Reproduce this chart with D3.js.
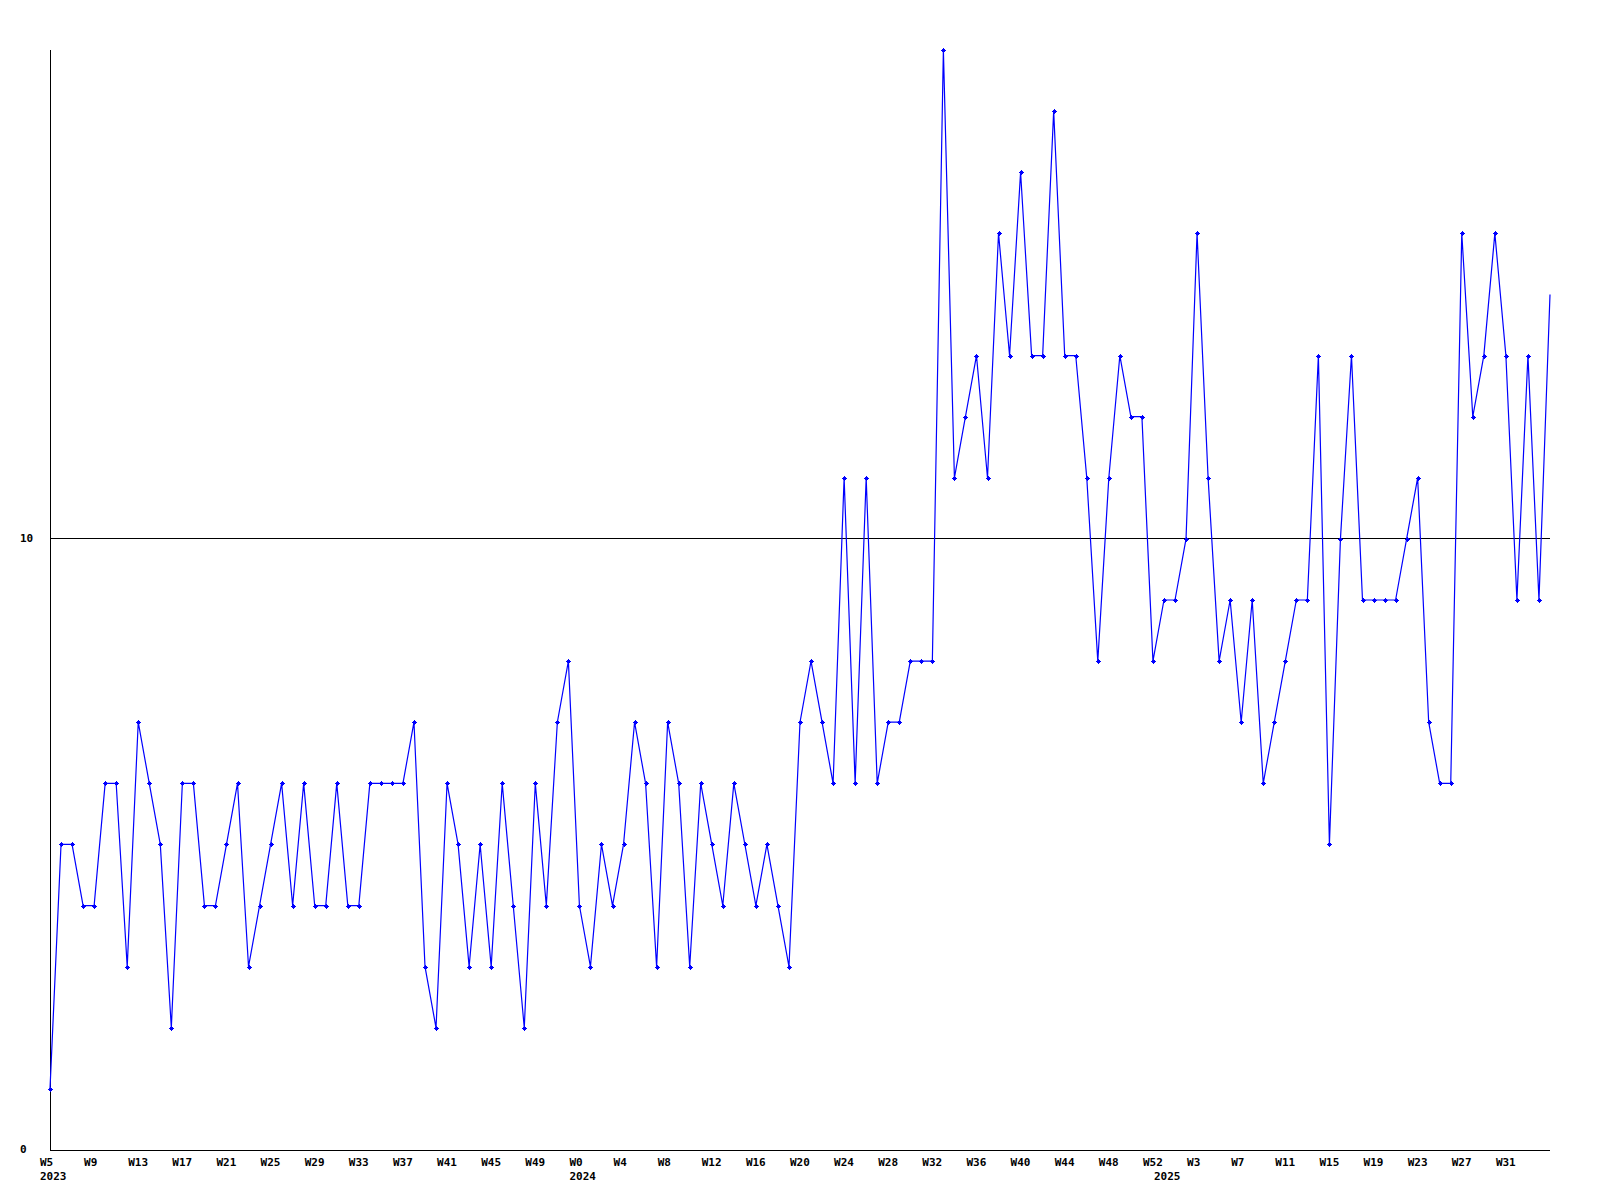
<!DOCTYPE html>
<html>
<head>
<meta charset="utf-8">
<script src="https://cdn.jsdelivr.net/npm/d3@7"></script>
<style>
  html, body { margin: 0; padding: 0; background: #fff; }
  svg { display: block; }
  text { font-family: "DejaVu Sans Mono", "Liberation Mono", monospace; font-weight: bold; font-size: 11px; fill: #000; }
</style>
</head>
<body>
<svg id="chart" width="1600" height="1200"></svg>
<script>
// ---- data ----
const yearLabels = ["2023", "2024", "2025"];
const yearFirstWeek = [5, 0, 0];
const yearWeekCount = [48, 53, 36];

const values = [
  1,5,5,4,4,6,6,3,7,6,
  5,2,6,6,4,4,5,6,3,4,
  5,6,4,6,4,4,6,4,4,6,
  6,6,6,7,3,2,6,5,3,5,
  3,6,4,2,6,4,7,8,4,3,
  5,4,5,7,6,3,7,6,3,6,
  5,4,6,5,4,5,4,3,7,8,
  7,6,11,6,11,6,7,7,8,8,
  8,18,11,12,13,11,15,13,16,13,
  13,17,13,13,11,8,11,13,12,12,
  8,9,9,10,15,11,8,9,7,9,
  6,7,8,9,9,13,5,10,13,9,
  9,9,9,10,11,7,6,6,15,12,
  13,15,13,9,13,9,14
];

const xTickLabels = ["W5","W9","W13","W17","W21","W25","W29","W33","W37","W41","W45","W49",
  "W0","W4","W8","W12","W16","W20","W24","W28","W32","W36","W40","W44","W48","W52",
  "W3","W7","W11","W15","W19","W23","W27","W31"];
const yTickValues = [0, 10];
const yMax = 18;

(function () {
  // categories (one per week)
  const categories = [];
  yearLabels.forEach((yr, k) => {
    for (let w = 0; w < yearWeekCount[k]; w++) {
      categories.push({ year: yr, week: yearFirstWeek[k] + w, first: w === 0 });
    }
  });
  const data = values.map((v, i) => ({ i, v, cat: categories[i] }));

  // ---- layout ----
  const mLeft = 50, mRight = 1550, mTop = 50, mBottom = 1150;
  const svg = d3.select("#chart");

  const x = d3.scaleLinear().domain([0, values.length - 1]).range([mLeft, mRight]);
  const y = d3.scaleLinear().domain([0, yMax]).range([mBottom, mTop]);

  // gridline at 10
  svg.append("g").selectAll("line")
    .data(yTickValues.filter(t => t > 0))
    .join("line")
    .attr("x1", mLeft).attr("x2", mRight)
    .attr("y1", d => Math.round(y(d)) - 0.5).attr("y2", d => Math.round(y(d)) - 0.5)
    .attr("stroke", "#000").attr("stroke-width", 1)
    .attr("shape-rendering", "crispEdges");

  // axes lines
  svg.append("line")
    .attr("x1", mLeft + 0.5).attr("x2", mLeft + 0.5)
    .attr("y1", mTop).attr("y2", mBottom + 0.5)
    .attr("stroke", "#000").attr("shape-rendering", "crispEdges");
  svg.append("line")
    .attr("x1", mLeft).attr("x2", mRight)
    .attr("y1", mBottom + 0.5).attr("y2", mBottom + 0.5)
    .attr("stroke", "#000").attr("shape-rendering", "crispEdges");

  // y labels
  svg.append("g").selectAll("text")
    .data(yTickValues)
    .join("text")
    .attr("x", 20)
    .attr("y", d => y(d))
    .attr("dominant-baseline", "middle")
    .text(d => d);

  // x tick labels (every 4th week)
  svg.append("g").selectAll("text")
    .data(xTickLabels)
    .join("text")
    .attr("x", (d, j) => x(j * 4) - 10)
    .attr("y", mBottom + 13)
    .attr("dominant-baseline", "middle")
    .text(d => d);

  // year labels at first week of each year
  svg.append("g").selectAll("text")
    .data(data.filter(d => d.cat.first))
    .join("text")
    .attr("x", d => x(d.i) - 10)
    .attr("y", mBottom + 27)
    .attr("dominant-baseline", "middle")
    .text(d => d.cat.year);

  // line
  const line = d3.line().x(d => x(d.i)).y(d => y(d.v));
  svg.append("path")
    .datum(data)
    .attr("d", line)
    .attr("fill", "none")
    .attr("stroke", "#0000ff")
    .attr("stroke-width", 1.2);

  // markers (the reference shows none on the final, still-open week)
  svg.append("g").selectAll("path")
    .data(data.slice(0, -1))
    .join("path")
    .attr("transform", d => `translate(${Math.round(x(d.i))},${Math.round(y(d.v))})`)
    .attr("d", "M-2.5,-0.5h5v1h-5z M-0.5,-2.5h1v5h-1z M-1.5,-1.5h3v3h-3z")
    .attr("fill", "#0000ff")
    .attr("shape-rendering", "crispEdges");
})();
</script>
</body>
</html>
